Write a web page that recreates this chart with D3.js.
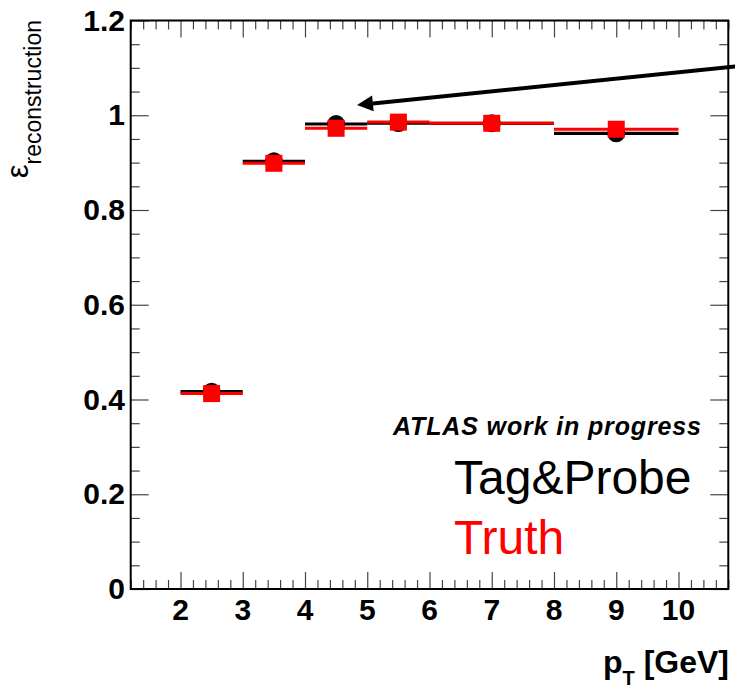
<!DOCTYPE html>
<html>
<head>
<meta charset="utf-8">
<script src="https://cdn.jsdelivr.net/npm/d3@7"></script>
<style>
  html, body { margin: 0; padding: 0; background: #fff; }
  svg { display: block; }
  text { font-family: "Liberation Sans", Arial, Helvetica, sans-serif; }
</style>
</head>
<body>
<script>
// ---- data ----
const binLow  = [2, 3, 4, 5, 6, 8];
const binHigh = [3, 4, 5, 6, 8, 10];
const binCenter = [2.5, 3.5, 4.5, 5.5, 7, 9];
const tagProbe = [0.4165, 0.9028, 0.9815, 0.9835, 0.983, 0.9619];
const truth    = [0.4125, 0.8986, 0.9725, 0.9855, 0.983, 0.9705];
const xTickLabels = [2, 3, 4, 5, 6, 7, 8, 9, 10];
const yTickLabels = [0, 0.2, 0.4, 0.6, 0.8, 1, 1.2];
const arrowFrom = [11.0, 1.104];
const arrowTo = [4.835, 1.0216];

const W = 735, H = 691;
const fL = 130.7, fR = 728.3, fT = 20.5, fB = 589;

const svg = d3.select("body").append("svg").attr("width", W).attr("height", H);

const x = d3.scaleLinear().domain([1.2, 10.8]).range([fL, fR]);
const y = d3.scaleLinear().domain([0, 1.2]).range([fB, fT]);

// minor tick values
const xMinor = d3.range(0, 49).map(i => +(1.2 + i * 0.2).toFixed(2)).filter(v => v <= 10.8 + 1e-9 && Math.abs(v - Math.round(v)) > 1e-6);
const yMinor = d3.range(0, 25).map(i => +(i * 0.05).toFixed(2)).filter(v => Math.abs(v * 5 - Math.round(v * 5)) > 1e-6);

function styleTicks(g) {
  g.select(".domain").remove();
  g.selectAll(".tick line").attr("stroke", "#444").attr("stroke-width", 1.2);
  g.selectAll(".tick text").remove();
}

// bottom axis ticks (inward)
svg.append("g").attr("transform", `translate(0,${fB})`)
  .call(d3.axisBottom(x).tickValues(xTickLabels).tickSize(-17)).call(styleTicks);
svg.append("g").attr("transform", `translate(0,${fB})`)
  .call(d3.axisBottom(x).tickValues(xMinor).tickSize(-9)).call(styleTicks);
// top axis ticks
svg.append("g").attr("transform", `translate(0,${fT})`)
  .call(d3.axisTop(x).tickValues(xTickLabels).tickSize(-17)).call(styleTicks);
svg.append("g").attr("transform", `translate(0,${fT})`)
  .call(d3.axisTop(x).tickValues(xMinor).tickSize(-9)).call(styleTicks);
// left axis ticks
svg.append("g").attr("transform", `translate(${fL},0)`)
  .call(d3.axisLeft(y).tickValues(yTickLabels).tickSize(-18)).call(styleTicks);
svg.append("g").attr("transform", `translate(${fL},0)`)
  .call(d3.axisLeft(y).tickValues(yMinor).tickSize(-9)).call(styleTicks);
// right axis ticks
svg.append("g").attr("transform", `translate(${fR},0)`)
  .call(d3.axisRight(y).tickValues(yTickLabels).tickSize(-18)).call(styleTicks);
svg.append("g").attr("transform", `translate(${fR},0)`)
  .call(d3.axisRight(y).tickValues(yMinor).tickSize(-9)).call(styleTicks);

// frame
svg.append("rect").attr("x", fL).attr("y", fT)
  .attr("width", fR - fL).attr("height", fB - fT)
  .attr("fill", "none").attr("stroke", "#000").attr("stroke-width", 2);

// tick labels
svg.append("g").selectAll("text").data(xTickLabels).join("text")
  .attr("x", d => x(d)).attr("y", fB + 31)
  .attr("text-anchor", "middle").attr("font-size", 30).attr("font-weight", "bold").attr("fill", "#000")
  .text(d => d);
svg.append("g").selectAll("text").data(yTickLabels).join("text")
  .attr("x", 125).attr("y", d => y(d) + 10)
  .attr("text-anchor", "end").attr("font-size", 30).attr("font-weight", "bold").attr("fill", "#000")
  .text(d => d3.format("~g")(d));

// axis titles
const xt = svg.append("text").attr("x", 729).attr("y", 673)
  .attr("text-anchor", "end").attr("font-size", 32).attr("font-weight", "bold").attr("fill", "#000");
xt.append("tspan").text("p");
xt.append("tspan").attr("font-size", 20).attr("dy", 12).text("T");
xt.append("tspan").attr("dy", -12).text(" [GeV]");

const yt = svg.append("text").attr("transform", "translate(28,20) rotate(-90)")
  .attr("text-anchor", "end").attr("font-size", 31).attr("fill", "#000");
yt.append("tspan").text("ε");
yt.append("tspan").attr("font-size", 23).attr("dy", 13).text("reconstruction");

// data: tag & probe (black)
const data = (vals) => binCenter.map((c, i) => ({ c, lo: binLow[i], hi: binHigh[i], v: vals[i] }));

const gB = svg.append("g");
gB.selectAll("line").data(data(tagProbe)).join("line")
  .attr("x1", d => x(d.lo)).attr("x2", d => x(d.hi))
  .attr("y1", d => y(d.v)).attr("y2", d => y(d.v))
  .attr("stroke", "#000").attr("stroke-width", 3.2);
gB.selectAll("circle").data(data(tagProbe)).join("circle")
  .attr("cx", d => x(d.c)).attr("cy", d => y(d.v)).attr("r", 9).attr("fill", "#000");

// truth (red)
const gR = svg.append("g");
gR.selectAll("line").data(data(truth)).join("line")
  .attr("x1", d => x(d.lo)).attr("x2", d => x(d.hi))
  .attr("y1", d => y(d.v)).attr("y2", d => y(d.v))
  .attr("stroke", "#ff0000").attr("stroke-width", 3);
gR.selectAll("rect").data(data(truth)).join("rect")
  .attr("x", d => x(d.c) - 8.5).attr("y", d => y(d.v) - 8.5)
  .attr("width", 17).attr("height", 17).attr("fill", "#ff0000");

// arrow
const ax1 = x(arrowFrom[0]), ay1 = y(arrowFrom[1]);
const ax2 = x(arrowTo[0]), ay2 = y(arrowTo[1]);
const ang = Math.atan2(ay2 - ay1, ax2 - ax1);
const headLen = 16, headW = 8;
const bx = ax2 - headLen * Math.cos(ang), by = ay2 - headLen * Math.sin(ang);
svg.append("line").attr("x1", ax1).attr("y1", ay1).attr("x2", bx).attr("y2", by)
  .attr("stroke", "#000").attr("stroke-width", 4);
svg.append("path")
  .attr("d", `M${ax2},${ay2} L${bx + headW * Math.sin(ang)},${by - headW * Math.cos(ang)} L${bx - headW * Math.sin(ang)},${by + headW * Math.cos(ang)} Z`)
  .attr("fill", "#000");

// legend / labels
svg.append("text").attr("x", 393).attr("y", 435)
  .attr("font-size", 25).attr("font-weight", "bold").attr("font-style", "italic")
  .attr("textLength", 308).attr("lengthAdjust", "spacing")
  .attr("fill", "#000").text("ATLAS work in progress");
svg.append("text").attr("x", 454).attr("y", 494)
  .attr("font-size", 48).attr("fill", "#000").text("Tag&Probe");
svg.append("text").attr("x", 454).attr("y", 554)
  .attr("font-size", 48).attr("fill", "#ff0000").text("Truth");
</script>
</body>
</html>
